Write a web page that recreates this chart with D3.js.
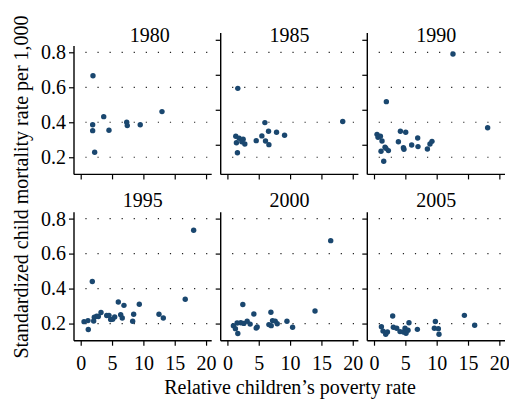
<!DOCTYPE html>
<html>
<head>
<meta charset="utf-8">
<script src="https://cdn.jsdelivr.net/npm/d3@7"></script>
<style>
  html, body { margin: 0; padding: 0; background: #fff; }
  svg { display: block; }
  text { font-family: "Liberation Serif", "DejaVu Serif", serif; fill: #000; }
</style>
</head>
<body>
<svg id="chart" width="509" height="400"></svg>
<script>
// Relative children's poverty rate (x) vs standardized child mortality per 1,000 (y)
const years = ["1980", "1985", "1990", "1995", "2000", "2005"];

const pts1980 = [[1.96,0.666],[1.91,0.386],[1.91,0.352],[2.23,0.229],[3.67,0.432],[4.51,0.354],
  [7.34,0.400],[7.43,0.381],[9.5,0.386],[12.97,0.461]];

const pts1985 = [[1.66,0.594],[1.34,0.320],[1.44,0.283],[1.6,0.226],[1.87,0.309],[2.51,0.303],
  [2.3,0.289],[2.78,0.276],[4.6,0.295],[5.5,0.322],[5.98,0.398],[6.08,0.293],[6.56,0.349],
  [6.62,0.272],[7.84,0.343],[9.12,0.326],[18.4,0.404]];

const pts1990 = [[12.6,0.790],[1.97,0.518],[0.48,0.331],[0.64,0.314],[1.02,0.320],[1.28,0.293],
  [1.12,0.234],[1.55,0.177],[1.76,0.257],[1.91,0.251],[2.3,0.238],[3.89,0.289],[4.21,0.349],
  [5.06,0.343],[4.69,0.255],[4.78,0.246],[6.01,0.270],[6.97,0.310],[7.02,0.261],[8.52,0.247],
  [8.93,0.276],[9.25,0.291],[18.13,0.369]];

const pts1995 = [[18.02,0.733],[1.85,0.440],[16.68,0.339],[6.0,0.323],[6.9,0.304],[9.35,0.310],
  [0.53,0.211],[1.16,0.217],[1.21,0.166],[2.07,0.215],[2.17,0.236],[2.55,0.242],[2.81,0.240],
  [3.24,0.263],[4.15,0.246],[4.51,0.247],[4.78,0.223],[5.1,0.225],[5.42,0.238],[6.38,0.251],
  [6.63,0.232],[8.45,0.253],[8.29,0.213],[12.49,0.253],[13.18,0.232]];

const pts2000 = [[16.48,0.674],[13.98,0.272],[2.46,0.309],[4.22,0.255],[6.94,0.265],[0.96,0.188],
  [1.28,0.171],[1.66,0.143],[1.55,0.203],[2.14,0.205],[2.62,0.201],[3.15,0.213],[3.63,0.197],
  [4.59,0.174],[4.75,0.180],[6.62,0.194],[6.99,0.188],[7.2,0.217],[7.63,0.214],[7.95,0.199],
  [9.5,0.213],[10.4,0.179]];

const pts2005 = [[2.98,0.243],[14.42,0.247],[16.06,0.190],[9.79,0.212],[5.58,0.205],[1.18,0.182],
  [1.44,0.157],[1.87,0.139],[2.14,0.152],[3.09,0.179],[3.62,0.173],[4.15,0.154],[4.69,0.152],
  [4.95,0.173],[5.11,0.145],[5.43,0.162],[6.92,0.167],[9.63,0.173],[10.27,0.171],[10.37,0.139]];

const xTicks = [0, 5, 10, 15, 20];
const yTicks = [0.2, 0.4, 0.6, 0.8];

const panelData = [pts1980, pts1985, pts1990, pts1995, pts2000, pts2005];

const svg = d3.select("#chart");
const dotColor = "#1a476f";
const fontSize = 20;

// panel geometry
const colX = [74, 220.7, 367.3];
const rowTop = [46, 212.3];
const pw = 137.7, ph = 128.4;

const x = d3.scaleLinear().domain([-1.07, 20.9]).range([0, pw]);
const y = d3.scaleLinear().domain([0.102, 0.836]).range([0, ph]).range([ph, 0]);

panelData.forEach((pts, i) => {
  const col = i % 3, row = Math.floor(i / 3);
  const g = svg.append("g").attr("transform", `translate(${colX[col]},${rowTop[row]})`);

  // dotted horizontal gridlines
  g.append("g").selectAll("line").data(yTicks).join("line")
    .attr("x1", 11.4).attr("x2", 134)
    .attr("y1", d => y(d)).attr("y2", d => y(d))
    .attr("stroke", "#222").attr("stroke-width", 1.2)
    .attr("stroke-dasharray", "1.2 10.87");

  // y axis (top-row panels after the first carry a raised axis)
  const shift = (row === 0 && col > 0) ? -12.5 : 0;
  const ys = y.copy().range([ph + shift, shift]);
  const yAxis = d3.axisLeft(ys).tickValues(yTicks).tickSize(5).tickPadding(3)
    .tickSizeOuter(0).tickFormat(col === 0 ? d3.format(".1f") : () => "");
  const ya = g.append("g").call(yAxis);
  ya.select(".domain").remove();
  ya.selectAll("line").attr("stroke", "#000").attr("stroke-width", 1.2);
  ya.selectAll("text").style("font-size", fontSize + "px")
    .style("font-family", "'Liberation Serif', serif");
  const yTop = (row === 0 && col > 0) ? -13 : 0;
  g.append("line").attr("x1", 0).attr("x2", 0).attr("y1", yTop).attr("y2", ph)
    .attr("stroke", "#000").attr("stroke-width", 1.4);

  // x axis
  const xAxis = d3.axisBottom(x).tickValues(xTicks).tickSize(5).tickPadding(10)
    .tickSizeOuter(0).tickFormat(row === 1 ? d3.format("d") : () => "");
  const xa = g.append("g").attr("transform", `translate(0,${ph})`).call(xAxis);
  xa.select(".domain").remove();
  xa.selectAll("line").attr("stroke", "#000").attr("stroke-width", 1.2);
  xa.selectAll("text").style("font-size", fontSize + "px")
    .style("font-family", "'Liberation Serif', serif");
  g.append("line").attr("x1", 0).attr("x2", pw).attr("y1", ph).attr("y2", ph)
    .attr("stroke", "#000").attr("stroke-width", 1.4);

  // panel title
  g.append("text")
    .attr("x", pw / 2 + (i === 0 ? 7 : 0))
    .attr("y", row === 0 ? -4 : -5.3)
    .attr("text-anchor", "middle")
    .style("font-size", fontSize + "px")
    .text(years[i]);

  // points
  g.append("g").selectAll("circle").data(pts).join("circle")
    .attr("cx", d => x(d[0])).attr("cy", d => y(d[1]))
    .attr("r", 2.7).attr("fill", dotColor);
});

// axis titles
svg.append("text")
  .attr("x", 290).attr("y", 394)
  .attr("text-anchor", "middle")
  .style("font-size", fontSize + "px")
  .text("Relative children’s poverty rate");

svg.append("text")
  .attr("transform", "translate(28,187) rotate(-90)")
  .attr("text-anchor", "middle")
  .style("font-size", fontSize + "px")
  .text("Standardized child mortality rate per 1,000");
</script>
</body>
</html>
